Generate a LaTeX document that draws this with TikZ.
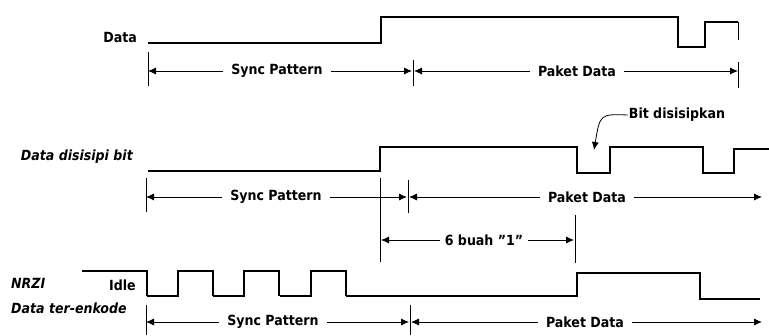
\documentclass[tikz,border=0pt]{standalone}
\usepackage{fontspec}
\setmainfont{DejaVu Sans Condensed}[BoldFont=DejaVu Sans Condensed Bold,ItalicFont=DejaVu Sans Condensed Oblique,BoldItalicFont=DejaVu Sans Condensed Bold Oblique]
\usetikzlibrary{arrows.meta}
\begin{document}
\begin{tikzpicture}[x=1pt,y=-1pt,
	sig/.style={line width=1.3pt},
	limit/.style={line width=.8pt},
	dim/.style={line width=.8pt,-{Latex[length=8pt,width=7pt]}},
	lbl/.style={font=\fontsize{14}{16}\selectfont\bfseries,inner sep=1pt},
	txt/.style={font=\fontsize{14}{16}\selectfont\bfseries,inner sep=8pt}]
\useasboundingbox (0,0) rectangle (769,335);
\draw[sig]
	(148,43) -- (381,43) -- (381,17) -- (678,17) -- (678,47)
	-- (705,47) -- (705,22) -- (738,22);
\draw[limit] (738,22) -- (738,40);
\draw[sig]
	(148,171) -- (380,171) -- (380,147) -- (577,147) -- (577,173)
	-- (610,173) -- (610,147) -- (703,147) -- (703,173)
	-- (734,173) -- (734,149) -- (769,149);
\draw[sig] (82,271) -- (147,271) -- (147,296);
\foreach \x in {147,213,280}{\draw[sig] (\x,296) -- (\x+31,296) -- (\x+31,271) -- (\x+66,271) -- (\x+66,296);}
\draw[sig] (346,296) -- (577,296) -- (577,273) -- (700,273) -- (700,299) -- (760,299);
\draw[limit]
	(148,52) -- (148,86) (413,60) -- (413,86) (738,62) -- (738,88)
	(146,178) -- (146,212) (408,180) -- (408,213) (380,178) -- (380,262)
	(575,215) -- (575,263)
	(146,305) -- (146,335) (410,305) -- (410,335);
\path
	(138,37) node [lbl,anchor=east] (data) {Data}
	(134,157) node [lbl,anchor=east] (sisip) {\itshape Data disisipi bit}
	(10,283) node [lbl,anchor=west] (nrzi) {\itshape NRZI}
	(137,285) node [lbl,anchor=east] (idle) {Idle}
	(10,308) node [lbl,anchor=west] (enk) {\itshape Data ter-enkode}
	(677,115) node [lbl] (bit) {Bit disisipkan}
	(277,71) node [txt] (sync1) {Sync Pattern}
	(577,71) node [txt] (pak1) {Paket Data}
	(276,197) node [txt] (sync2) {Sync Pattern}
	(587,197) node [txt] (pak2) {Paket Data}
	(484,240) node [txt,inner sep=5pt] (enam) {6 buah "1"}
	(273,322) node [txt] (sync3) {Sync Pattern}
	(585,322) node [txt] (pak3) {Paket Data};
\coordinate (a1) at (148,71);
\coordinate (b1) at (413,71);
\coordinate (c1) at (738,71);
\coordinate (a2) at (146,197);
\coordinate (b2) at (408,197);
\coordinate (c2) at (762,197);
\coordinate (d) at (380,240);
\coordinate (e) at (575,240);
\coordinate (a3) at (146,322);
\coordinate (b3) at (410,322);
\coordinate (c3) at (762,322);
\coordinate (tip) at (594,150);
\draw[dim] (sync1.west) -- (a1);
\draw[dim] (sync1.east) -- ([xshift=-1pt]b1);
\draw[dim] (pak1.west) -- ([xshift=1pt]b1);
\draw[dim] (pak1.east) -- (c1);
\draw[dim] (sync2.west) -- (a2);
\draw[dim] (sync2.east) -- ([xshift=-1pt]b2);
\draw[dim] (pak2.west) -- ([xshift=1pt]b2);
\draw[dim] (pak2.east) -- (c2);
\draw[dim] (enam.west) -- ([xshift=1pt]d);
\draw[dim] (enam.east) -- ([xshift=-1pt]e);
\draw[dim] (sync3.west) -- (a3);
\draw[dim] (sync3.east) -- ([xshift=-1pt]b3);
\draw[dim] (pak3.west) -- ([xshift=1pt]b3);
\draw[dim] (pak3.east) -- (c3);
\draw[dim] (bit.west) .. controls (600,114) .. (tip);
\end{tikzpicture}
\end{document}
